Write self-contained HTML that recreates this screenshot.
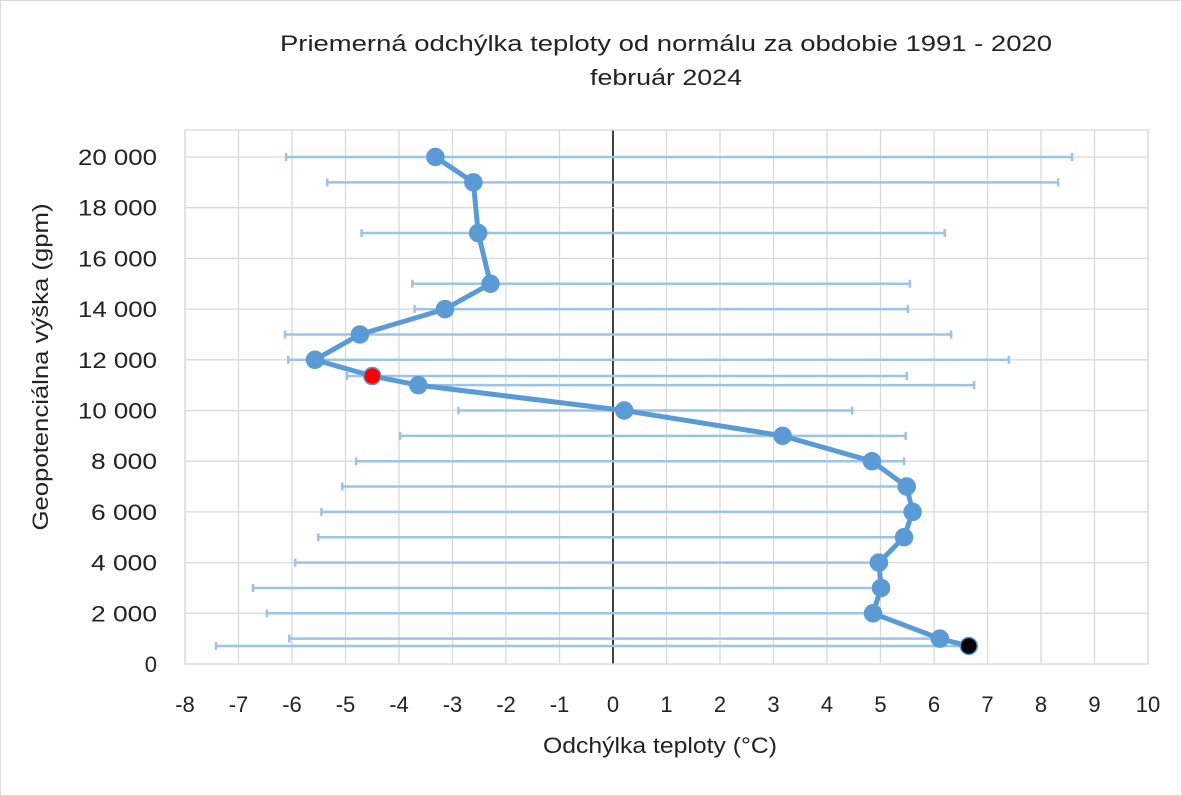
<!DOCTYPE html>
<html><head><meta charset="utf-8"><style>
body{margin:0;background:#fff}
svg{display:block;font-family:"Liberation Sans",Calibri,sans-serif}
</style></head><body>
<svg id="c" width="1182" height="796">
<rect x="0.5" y="0.5" width="1181" height="795" fill="#fff" stroke="#d9d9d9"/>
<text x="666" y="51" text-anchor="middle" font-size="22" textLength="772" lengthAdjust="spacingAndGlyphs" fill="#222">Priemerná odchýlka teploty  od normálu  za obdobie  1991 - 2020</text>
<text x="666" y="85" text-anchor="middle" font-size="22" textLength="152" lengthAdjust="spacingAndGlyphs" fill="#222">február 2024</text>
<text x="660" y="753" text-anchor="middle" font-size="22" textLength="234" lengthAdjust="spacingAndGlyphs" fill="#222">Odchýlka teploty (°C)</text>
<text transform="translate(48,367) rotate(-90)" text-anchor="middle" font-size="22" textLength="327" lengthAdjust="spacingAndGlyphs" fill="#222">Geopotenciálna výška (gpm)</text>
<g id="grid"></g><g id="bars"></g><g id="line"></g><g id="ticks"></g>
</svg>
<script>
const heights=[20000,19000,17000,15000,14000,13000,12000,11360,11000,10000,9000,8000,7000,6000,5000,4000,3000,2000,1000,710];
const deviation=[-3.32,-2.61,-2.52,-2.29,-3.14,-4.73,-5.57,-4.50,-3.64,0.21,3.17,4.84,5.49,5.60,5.44,4.97,5.01,4.86,6.11,6.65];
const minDev=[-6.11,-5.34,-4.70,-3.75,-3.71,-6.13,-6.07,-4.97,-3.64,-2.89,-3.98,-4.80,-5.06,-5.45,-5.51,-5.94,-6.73,-6.47,-6.05,-7.42];
const maxDev=[8.58,8.32,6.20,5.55,5.51,6.32,7.40,5.49,6.75,4.47,5.47,5.44,5.49,5.60,5.44,4.97,5.01,4.86,6.11,6.65];
const xTicks=[-8,-7,-6,-5,-4,-3,-2,-1,0,1,2,3,4,5,6,7,8,9,10];
const yTicks=[0,2000,4000,6000,8000,10000,12000,14000,16000,18000,20000];
const yTickLabels=["0","2 000","4 000","6 000","8 000","10 000","12 000","14 000","16 000","18 000","20 000"];
const L=185,R=1148,T=130,B=664;
const X=v=>L+(v+8)/18*(R-L);
const Y=v=>B-v/20000*(B-157);
const NS="http://www.w3.org/2000/svg";
function mk(p,tag,a){const e=document.createElementNS(NS,tag);for(const k in a)e.setAttribute(k,a[k]);document.getElementById(p).appendChild(e);return e;}
xTicks.forEach(t=>{
 const e=mk('grid','line',{x1:X(t),x2:X(t),y1:T,y2:B,stroke:t===0?'#000':'#d9d9d9','stroke-width':t===0?1.5:1.3});
 
 
 const s=mk('ticks','text',{x:X(t),y:712,'text-anchor':'middle','font-size':22,fill:'#222'});s.textContent=t;
 
 
});
yTicks.forEach((t,i)=>{
 if(t>0){const e=mk('grid','line',{x1:L,x2:R,y1:Y(t),y2:Y(t),stroke:'#d9d9d9','stroke-width':1.3});
 
 }
 const a={x:157,y:Y(t)+8,'text-anchor':'end','font-size':22,fill:'#222'};
 if(yTickLabels[i].length>1){a.textLength=yTickLabels[i].length>5?79:66;a.lengthAdjust='spacingAndGlyphs';}
 const s=mk('ticks','text',a);s.textContent=yTickLabels[i];
 
 
});
const b=mk('grid','rect',{x:L,y:T,width:R-L,height:B-T,fill:'none',stroke:'#d9d9d9','stroke-width':1.3});


heights.forEach((h,i)=>{
 const y=Y(h);
 const e=mk('bars','path',{d:`M${X(minDev[i])},${y}H${X(maxDev[i])}M${X(minDev[i])},${y-4}v8M${X(maxDev[i])},${y-4}v8`,stroke:'#9dc3e6','stroke-width':2.5,fill:'none'});
 
 
});
const pl=mk('line','polyline',{points:heights.map((h,i)=>X(deviation[i])+','+Y(h)).join(' '),fill:'none',stroke:'#5b9bd5','stroke-width':5,'stroke-linejoin':'round'});


heights.forEach((h,i)=>{
 const n=heights.length;
 const fill=i===7?'#ff0000':(i===n-1?'#000':'#5b9bd5');
 const c=mk('line','circle',{cx:X(deviation[i]),cy:Y(h),r:8.5,fill:fill,stroke:'#5b9bd5','stroke-width':1.5});
 
 
});
</script>
</body></html>
